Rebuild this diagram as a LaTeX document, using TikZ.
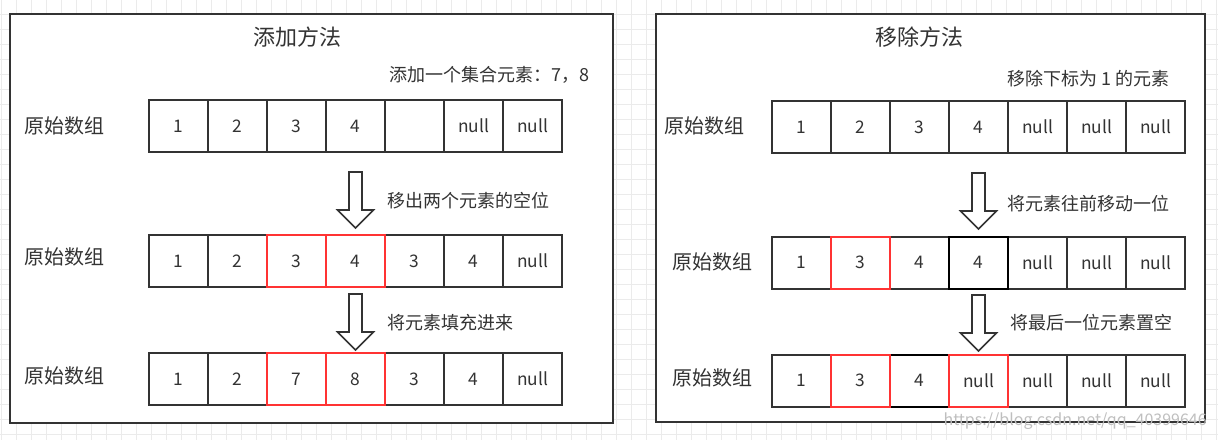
\documentclass[tikz,border=0pt]{standalone}
\usepackage{fontspec}
\setmainfont{Noto Sans CJK SC}
\usepackage{xcolor}

\begin{document}
\begin{tikzpicture}[x=0.75pt, y=-0.75pt,
  cell/.style={draw=black!80, line width=1.5pt, minimum width=44.25pt, minimum height=39pt, inner sep=0pt, font=\fontsize{13}{15}\selectfont, text=black!80},
  hot/.style={cell, draw=red!80!white},
  dark/.style={cell, draw=black},
  title/.style={font=\fontsize{16.5}{20}\selectfont, text=black!80, inner sep=0pt},
  rowlabel/.style={font=\fontsize{15}{18}\selectfont, text=black!80, anchor=west, inner sep=0pt},
  note/.style={font=\fontsize{13.5}{16}\selectfont, text=black!80, inner sep=0pt},
  panel/.style={draw=black!80, line width=1.5pt, fill=white},
  barrow/.style={draw=black!80, line width=1.2pt, fill=white, line join=miter},
  gridline/.style={draw=black!8, line width=0.75pt},
  wmark/.style={font=\fontsize{12}{14}\selectfont, text=black!25, inner sep=0pt}
]
\useasboundingbox (0,0) rectangle (1218,440);
\fill[white] (0,0) rectangle (1218,440);
\draw[gridline, shift={(1,14.3)}, step=11.25pt] (-1,425.7) grid (1217,-14.3);

% left panel
\draw[panel] (10,14) rectangle (613,423);
\node[title] (tl) at (297,37) {添加方法};
\node[note, anchor=east] (nl) at (590,75) {添加一个集合元素：7，8};
\node[rowlabel] (la) at (24,126) {原始数组};
\node[rowlabel] (lb) at (24,257) {原始数组};
\node[rowlabel] (lc) at (24,376) {原始数组};
\node[cell] (a1) at (178.5,126) {1};
\node[cell] (a2) at (237.5,126) {2};
\node[cell] (a3) at (296.5,126) {3};
\node[cell] (a4) at (355.5,126) {4};
\node[cell] (a5) at (414.5,126) {};
\node[cell] (a6) at (473.5,126) {null};
\node[cell] (a7) at (532.5,126) {null};
\node[cell] (b1) at (178.5,261) {1};
\node[cell] (b2) at (237.5,261) {2};
\node[cell] (b5) at (414.5,261) {3};
\node[cell] (b6) at (473.5,261) {4};
\node[cell] (b7) at (532.5,261) {null};
\node[hot] (b3) at (296.5,261) {3};
\node[hot] (b4) at (355.5,261) {4};
\node[cell] (c1) at (178.5,379) {1};
\node[cell] (c2) at (237.5,379) {2};
\node[cell] (c5) at (414.5,379) {3};
\node[cell] (c6) at (473.5,379) {4};
\node[cell] (c7) at (532.5,379) {null};
\node[hot] (c3) at (296.5,379) {7};
\node[hot] (c4) at (355.5,379) {8};
\coordinate (al1) at (355.5,172);
\coordinate (al2) at (355.5,294);
\draw[barrow] (al1) ++(-6.5,0) -- ++(13,0) -- ++(0,38) -- ++(11.5,0) -- ++(-18,18) -- ++(-18,-18) -- ++(11.5,0) -- cycle;
\draw[barrow] (al2) ++(-6.5,0) -- ++(13,0) -- ++(0,38) -- ++(11.5,0) -- ++(-18,18) -- ++(-18,-18) -- ++(11.5,0) -- cycle;
\node[note, anchor=west] (sl1) at (387,201) {移出两个元素的空位};
\node[note, anchor=west] (sl2) at (387,323) {将元素填充进来};

% right panel
\draw[panel] (656,14) rectangle (1205,422);
\node[title] (tr) at (919,37) {移除方法};
\node[note, anchor=east] (nr) at (1170,79) {移除下标为 1 的元素};
\node[rowlabel] (ld) at (664,126) {原始数组};
\node[rowlabel] (le) at (672,262) {原始数组};
\node[rowlabel] (lf) at (672,378) {原始数组};
\node[cell] (d1) at (801.5,127) {1};
\node[cell] (d2) at (860.5,127) {2};
\node[cell] (d3) at (919.5,127) {3};
\node[cell] (d4) at (978.5,127) {4};
\node[cell] (d5) at (1037.5,127) {null};
\node[cell] (d6) at (1096.5,127) {null};
\node[cell] (d7) at (1155.5,127) {null};
\node[cell] (e1) at (801.5,262.5) {1};
\node[cell] (e3) at (919.5,262.5) {4};
\node[cell] (e5) at (1037.5,262.5) {null};
\node[cell] (e6) at (1096.5,262.5) {null};
\node[cell] (e7) at (1155.5,262.5) {null};
\node[dark] (e4) at (978.5,262.5) {4};
\node[hot] (e2) at (860.5,262.5) {3};
\node[cell] (f1) at (801.5,380.5) {1};
\node[cell] (f5) at (1037.5,380.5) {null};
\node[cell] (f6) at (1096.5,380.5) {null};
\node[cell] (f7) at (1155.5,380.5) {null};
\node[dark] (f3) at (919.5,380.5) {4};
\node[hot] (f2) at (860.5,380.5) {3};
\node[hot] (f4) at (978.5,380.5) {null};
\coordinate (ar1) at (978.5,173);
\coordinate (ar2) at (978.5,295);
\draw[barrow] (ar1) ++(-6.5,0) -- ++(13,0) -- ++(0,38) -- ++(11.5,0) -- ++(-18,18) -- ++(-18,-18) -- ++(11.5,0) -- cycle;
\draw[barrow] (ar2) ++(-6.5,0) -- ++(13,0) -- ++(0,38) -- ++(11.5,0) -- ++(-18,18) -- ++(-18,-18) -- ++(11.5,0) -- cycle;
\node[note, anchor=west] (sr1) at (1007,204) {将元素往前移动一位};
\node[note, anchor=west] (sr2) at (1010,323) {将最后一位元素置空};
\node[wmark, anchor=east] (wm) at (1207,421) {https://blog.csdn.net/qq\_40399646};
\end{tikzpicture}
\end{document}
